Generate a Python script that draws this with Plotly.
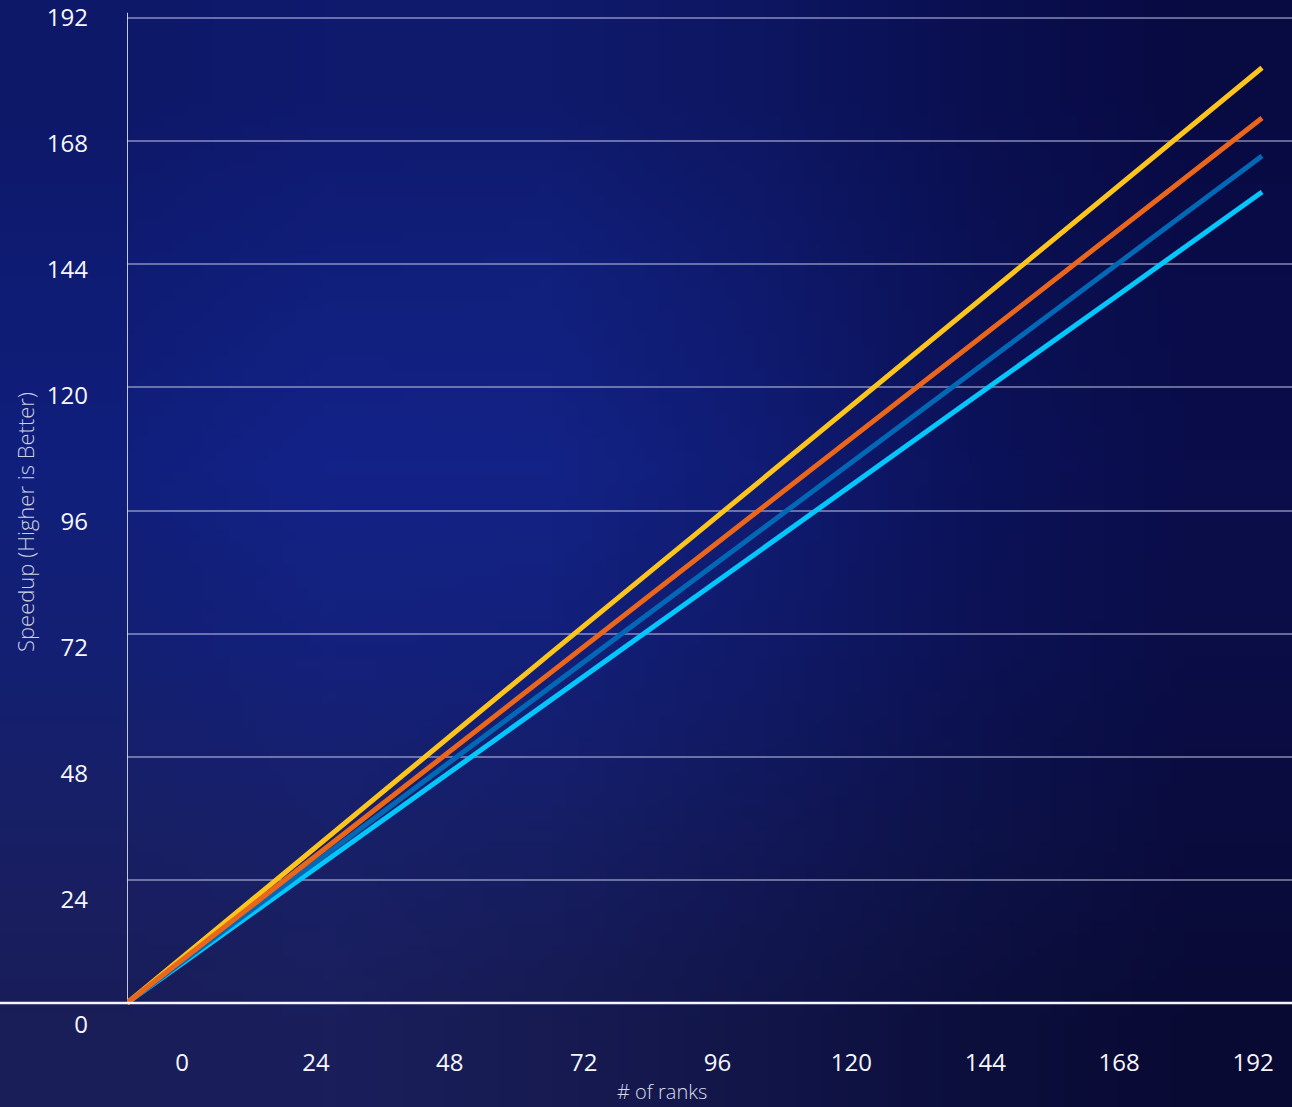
import base64, struct, zlib
import plotly.graph_objects as go

# ---------------- data ----------------
ranks = [0, 24, 48, 72, 96, 120, 144, 168, 192]
series_names = ["Series A", "Series B", "Series C", "Series D"]
speedup_a = [0, 22.9, 45.7, 68.5, 91.2, 114.0, 136.8, 159.6, 182.3]   # yellow
speedup_b = [0, 21.6, 43.1, 64.7, 86.2, 107.8, 129.4, 150.9, 172.5]   # orange
speedup_c = [0, 20.6, 41.3, 61.9, 82.5, 103.2, 123.8, 144.4, 165.1]   # blue
speedup_d = [0, 19.8, 39.5, 59.3, 79.0, 98.8, 118.6, 138.3, 158.1]    # cyan
x_tick_vals = [0, 24, 48, 72, 96, 120, 144, 168, 192]
y_tick_vals = [0, 24, 48, 72, 96, 120, 144, 168, 192]

# ---------------- background gradient (small PNG, stretched) ----------------
bg_grid = [
    ["#0e1868", "#0f1a6e", "#0f1a6c", "#0d1660", "#0a0f50", "#080a42"],
    ["#0f1c74", "#111f7c", "#11207c", "#0f1a6c", "#0b1155", "#090c48"],
    ["#101f7c", "#132288", "#132286", "#101c74", "#0c125a", "#0a0d4a"],
    ["#131f72", "#14217c", "#13207a", "#101a68", "#0c1254", "#0a0d46"],
    ["#181f64", "#182068", "#161e64", "#121858", "#0d1248", "#0a0c3e"],
    ["#191d58", "#1a1f5c", "#171b52", "#111548", "#0c0f3c", "#090a34"],
]


def make_png(grid):
    h = len(grid)
    w = len(grid[0])
    raw = b""
    for row in grid:
        raw += b"\x00"
        for c in row:
            raw += bytes(int(c[i:i + 2], 16) for i in (1, 3, 5))

    def chunk(tag, data):
        c = struct.pack(">I", len(data)) + tag + data
        return c + struct.pack(">I", zlib.crc32(tag + data) & 0xffffffff)

    png = b"\x89PNG\r\n\x1a\n"
    png += chunk(b"IHDR", struct.pack(">IIBBBBB", w, h, 8, 2, 0, 0, 0))
    png += chunk(b"IDAT", zlib.compress(raw))
    png += chunk(b"IEND", b"")
    return "data:image/png;base64," + base64.b64encode(png).decode()


# ---------------- geometry ----------------
W, H = 1292, 1107
ML, MR, MT, MB = 127, 0, 10, 77
PW, PH = W - ML - MR, H - MT - MB

FONT = "Open Sans"
colors = {"a": "#FFC51C", "b": "#E9661A", "c": "#0068B5", "d": "#00C7FD"}

fig = go.Figure()

order = [(speedup_d, "d", series_names[3]), (speedup_c, "c", series_names[2]),
         (speedup_a, "a", series_names[0]), (speedup_b, "b", series_names[1])]
for ys, key, name in order:
    fig.add_trace(go.Scatter(
        x=ranks, y=ys, mode="lines", name=name,
        line=dict(color=colors[key], width=5),
        showlegend=False, hoverinfo="x+y",
    ))

# invisible trace to carry the label axes
fig.add_trace(go.Scatter(x=[None], y=[None], xaxis="x2", yaxis="y2",
                         showlegend=False, hoverinfo="skip"))

fig.update_layout(
    width=W, height=H,
    margin=dict(l=ML, r=MR, t=MT, b=MB, pad=0),
    paper_bgcolor="#10196a",
    plot_bgcolor="rgba(0,0,0,0)",
    font=dict(family=FONT, color="#f4f5fa"),
    xaxis=dict(range=[0, 197.07], showgrid=False, zeroline=False,
               showticklabels=False, showline=False, ticks=""),
    yaxis=dict(range=[-5.263, 193.56], tickvals=y_tick_vals, showticklabels=False,
               showgrid=True, gridcolor="rgba(215,220,245,0.45)", gridwidth=1.5,
               zeroline=False, showline=False, ticks=""),
    xaxis2=dict(overlaying="x", anchor="y2", side="bottom",
                range=[-9.86, 198.99], tickvals=x_tick_vals,
                ticktext=[str(v) for v in x_tick_vals],
                showgrid=False, zeroline=False, showline=False, ticks="",
                ticklabelstandoff=16,
                tickfont=dict(size=24, color="#f6f7fb", family=FONT, weight=400)),
    yaxis2=dict(overlaying="y", anchor="x2", side="left",
                range=[-0.953, 193.525], tickvals=y_tick_vals,
                ticktext=[str(v) for v in y_tick_vals],
                showgrid=False, zeroline=False, showline=False, ticks="",
                ticklabelstandoff=38,
                tickfont=dict(size=24, color="#f6f7fb", family=FONT, weight=400)),
    images=[dict(source=make_png(bg_grid), xref="paper", yref="paper",
                 x=-ML / PW, y=1 + MT / PH, sizex=W / PW, sizey=H / PH,
                 xanchor="left", yanchor="top", sizing="stretch", layer="below")],
    shapes=[
        dict(type="line", xref="paper", yref="y", x0=-ML / PW, x1=1, y0=0, y1=0,
             line=dict(color="#f4f4fa", width=2.5), layer="above"),
        dict(type="line", xref="x", yref="y", x0=0, x1=0, y0=0, y1=193,
             line=dict(color="#c4c8dc", width=2), layer="below"),
    ],
    annotations=[
        dict(text="# of ranks", xref="paper", yref="paper",
             x=(662 - ML) / PW, y=(MT + PH - 1091) / PH, xanchor="center",
             yanchor="middle", showarrow=False,
             font=dict(size=20, color="#dadcea", family=FONT, weight=300)),
        dict(text="Speedup (Higher is Better)", xref="paper", yref="paper",
             x=(25 - ML) / PW, y=(MT + PH - 522) / PH, xanchor="center",
             yanchor="middle", showarrow=False, textangle=-90,
             font=dict(size=22, color="#cdd0e4", family=FONT, weight=300)),
    ],
)

fig.write_html(
    "out.html",
    config={"displayModeBar": False},
    post_script="document.body.style.margin='0';document.body.style.background='#0a0d40';",
)
